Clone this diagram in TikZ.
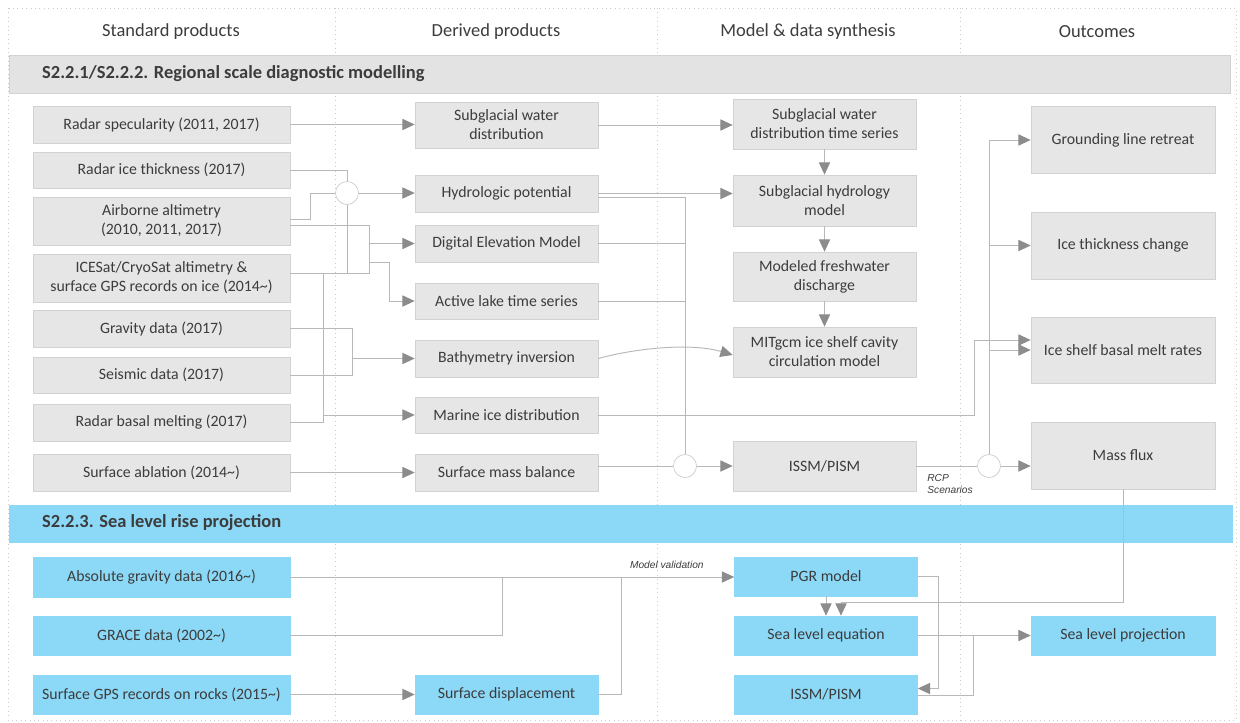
\documentclass[tikz,border=0pt]{standalone}
\usepackage{fontspec}
\setmainfont{Carlito}
\newfontfamily\lblfont{Liberation Sans}
\usetikzlibrary{arrows.meta,calc}
\definecolor{boxgray}{HTML}{E6E6E6}
\definecolor{boxedge}{HTML}{D2D2D2}
\definecolor{bandgray}{HTML}{E3E3E3}
\definecolor{skyblue}{HTML}{8CD8F7}
\definecolor{txtgray}{HTML}{3C3C3C}
\definecolor{linegray}{HTML}{B8B8B8}
\definecolor{tipgray}{HTML}{8C8C8C}
\definecolor{sepgray}{HTML}{CCCCCC}
\begin{document}
\begin{tikzpicture}[x=0.02cm,y=-0.02cm,
    product/.style ={rectangle, draw=boxedge, fill=boxgray, text=txtgray, align=center, inner sep=0pt,
      font=\fontsize{9}{10.8}\selectfont},
    stdcol/.style ={product, minimum width=5.14cm},
    dercol/.style ={product, minimum width=3.66cm},
    outcol/.style ={product, minimum width=3.68cm},
    sealevel/.style ={fill=skyblue, draw=skyblue},
    junction/.style ={circle, draw=sepgray, fill=white, minimum size=0.46cm, inner sep=0pt},
    colhead/.style ={text=txtgray, font=\fontsize{10.5}{12}\selectfont},
    bandtitle/.style ={anchor=west, text=txtgray, font=\fontsize{10.5}{12}\selectfont\bfseries},
    note/.style ={text=txtgray, align=left, inner sep=0pt, font=\lblfont\itshape\fontsize{5.8}{6.6}\selectfont},
    link/.style ={draw=linegray, line width=0.55pt},
    flow/.style ={link, -{Triangle[length=7pt,width=6.4pt,color=tipgray]}}]
   \useasboundingbox (0,0) rectangle (1240,723);
   \draw[sepgray, dotted, line width=0.5pt] (8,8) rectangle (1236,720);
   \foreach \sx in {335,657,960}
     \draw[sepgray, dotted, line width=0.5pt] (\sx,8) -- (\sx,720);
   % column heads and section bands
   \node[colhead] (hstd) at (171,32) {Standard products};
   \node[colhead] (hder) at (496,32) {Derived products};
   \node[colhead] (hmod) at (808,32) {Model \& data synthesis};
   \node[colhead] (hout) at (1097,32) {Outcomes};
   \draw[fill=bandgray, draw=boxedge] (9,55) rectangle (1230,93);
   \node[bandtitle] (tregion) at (36,74) {S2.2.1/S2.2.2. Regional scale diagnostic modelling};
   \draw[fill=skyblue, draw=skyblue] (9,505) rectangle (1232,542);
   \node[bandtitle] (tsea) at (36,523) {S2.2.3. Sea level rise projection};
   % standard products
   \node[stdcol, minimum height=0.74cm] (rspec) at (161.5,124.5) {Radar specularity (2011, 2017)};
   \node[stdcol, minimum height=0.72cm] (rthick) at (161.5,170) {Radar ice thickness (2017)};
   \node[stdcol, minimum height=0.96cm] (airalt) at (161.5,221) {Airborne altimetry\\(2010, 2011, 2017)};
   \node[stdcol, minimum height=0.96cm] (icesat) at (161.5,278) {ICESat/CryoSat altimetry \&\\surface GPS records on ice (2014\textasciitilde)};
   \node[stdcol, minimum height=0.74cm] (grav) at (161.5,328.5) {Gravity data (2017)};
   \node[stdcol, minimum height=0.72cm] (seis) at (161.5,375) {Seismic data (2017)};
   \node[stdcol, minimum height=0.74cm] (rbasal) at (161.5,422.5) {Radar basal melting (2017)};
   \node[stdcol, minimum height=0.74cm] (sabl) at (161.5,472.5) {Surface ablation (2014\textasciitilde)};
   % derived products
   \node[dercol, minimum height=0.92cm] (swd) at (506.5,125) {Subglacial water\\distribution};
   \node[dercol, minimum height=0.74cm] (hydpot) at (506.5,193.5) {Hydrologic potential};
   \node[dercol, minimum height=0.74cm] (dem) at (506.5,243.5) {Digital Elevation Model};
   \node[dercol, minimum height=0.72cm] (lake) at (506.5,301) {Active lake time series};
   \node[dercol, minimum height=0.74cm] (bathy) at (506.5,358.5) {Bathymetry inversion};
   \node[dercol, minimum height=0.72cm] (marine) at (506.5,415) {Marine ice distribution};
   \node[dercol, minimum height=0.74cm] (smb) at (506.5,472.5) {Surface mass balance};
   % model & data synthesis
   \node[dercol, minimum height=1.0cm] (swdts) at (824.5,124) {Subglacial water\\distribution time series};
   \node[dercol, minimum height=1.02cm] (shm) at (824.5,200.5) {Subglacial hydrology\\model};
   \node[dercol, minimum height=0.98cm] (mfd) at (824.5,276.5) {Modeled freshwater\\discharge};
   \node[dercol, minimum height=1.0cm] (mitgcm) at (824.5,352) {MITgcm ice shelf cavity\\circulation model};
   \node[dercol, minimum height=1.0cm] (issm) at (824.5,466) {ISSM/PISM};
   % outcomes
   \node[outcol, minimum height=1.34cm] (glr) at (1123,140) {Grounding line retreat};
   \node[outcol, minimum height=1.34cm] (itc) at (1123,245.5) {Ice thickness change};
   \node[outcol, minimum height=1.32cm] (isbmr) at (1123,350) {Ice shelf basal melt rates};
   \node[outcol, minimum height=1.34cm] (mflux) at (1123,455.5) {Mass flux};
   % sea level rise projection
   \node[stdcol, sealevel, minimum height=0.8cm] (absg) at (161.5,577) {Absolute gravity data (2016\textasciitilde)};
   \node[stdcol, sealevel, minimum height=0.78cm] (grace) at (161.5,635.5) {GRACE data (2002\textasciitilde)};
   \node[stdcol, sealevel, minimum height=0.78cm] (gpsr) at (161.5,694.5) {Surface GPS records on rocks (2015\textasciitilde)};
   \node[dercol, sealevel, minimum height=0.78cm] (sdisp) at (506.5,694.5) {Surface displacement};
   \node[dercol, sealevel, minimum height=0.78cm] (pgr) at (826,576.5) {PGR model};
   \node[dercol, sealevel, minimum height=0.78cm] (sle) at (826,635.5) {Sea level equation};
   \node[dercol, sealevel, minimum height=0.78cm] (issmb) at (826,694.5) {ISSM/PISM};
   \node[outcol, sealevel, minimum height=0.78cm] (slp) at (1123,635.5) {Sea level projection};
   % junctions and labels
   \node[junction] (j1) at (347,193) {};
   \node[junction] (j2) at (685,466) {};
   \node[junction] (j3) at (989,466) {};
   \node[note, anchor=north west] (rcp) at (927,474) {RCP\\Scenarios};
   \node[note, anchor=south east] (mval) at (704,569) {Model validation};
   \coordinate (bA) at (369,243.5);
   \coordinate (bB) at (369,262);
   \coordinate (bC) at (352,358.5);
   \coordinate (bD) at (323,273);
   \coordinate (bE) at (323,415);
   % regional connectors
   \draw[flow] (rspec.east) -- (rspec.east -| swd.west);
   \draw[flow] (swd.east) -- (swd.east -| swdts.west);
   \draw[link] (rthick.east) -| (j1.north);
   \draw[link] ($(airalt.east)+(0,-2)$) -- ++(20,0) |- (j1.west);
   \draw[link] ($(icesat.east)+(0,-5)$) -| (j1.south);
   \draw[flow] (j1.east) -- (j1.east -| hydpot.west);
   \draw[link] ($(airalt.east)+(0,4)$) -| ($(icesat.east)+(79,-5)$) -- ($(icesat.east)+(0,-5)$);
   \draw[flow] (bA) -- (dem.west);
   \draw[flow] (bB) -- ++(20,0) |- (lake.west);
   \draw[link] (grav.east) -- ++(62,0) |- (seis.east);
   \draw[flow] (bC) -- (bathy.west);
   \draw[link] (rbasal.east) -| (bD);
   \draw[flow] (bE) -- (marine.west);
   \draw[flow] (sabl.east) -- (smb.west);
   \draw[flow] (hydpot.east) -- (hydpot.east -| shm.west);
   \draw[link] ($(hydpot.east)+(0,4)$) -| (j2.north);
   \draw[link] (dem.east) -- (dem.east -| j2);
   \draw[link] (lake.east) -- (lake.east -| j2);
   \draw[link] (smb.east |- j2) -- (j2.west);
   \draw[flow] (j2.east) -- (issm.west);
   \draw[flow] (bathy.east) .. controls +(40,-11) and +(-40,-12) .. ($(mitgcm.west)+(0,3)$);
   \draw[flow] (swdts) -- (shm);
   \draw[flow] (shm) -- (mfd);
   \draw[flow] (mfd) -- (mitgcm);
   \draw[flow] (marine.east) -- ++(376,0) |- ($(isbmr.west)+(0,-10)$);
   \draw[link] (issm.east) -- (j3.west);
   \draw[flow] (j3.east) -- (j3.east -| mflux.west);
   \draw[flow] (j3.north) |- (glr.west);
   \draw[flow] (j3.north) |- (itc.west);
   \draw[flow] (j3.north) |- (isbmr.west);
   % sea level connectors
   \draw[flow] (absg.east) -- (absg.east -| pgr.west);
   \draw[link] (grace.east) -| ($(absg.east)+(212,0)$);
   \draw[flow] (gpsr.east) -- (sdisp.west);
   \draw[link] (sdisp.east) -| ($(absg.east)+(331,0)$);
   \draw[flow] (pgr.south) -- (sle.north);
   \draw[flow] (mflux.south) -- ++(0,113) -| ($(sle.north)+(15,0)$);
   \draw[flow] (pgr.east) -- ++(21,0) |- ($(issmb.east)+(0,-6)$);
   \draw[flow] (sle.east) -- (slp.west);
   \draw[link] ($(issmb.east)+(0,1)$) -| ($(sle.east)+(56,0)$);
\end{tikzpicture}
\end{document}
